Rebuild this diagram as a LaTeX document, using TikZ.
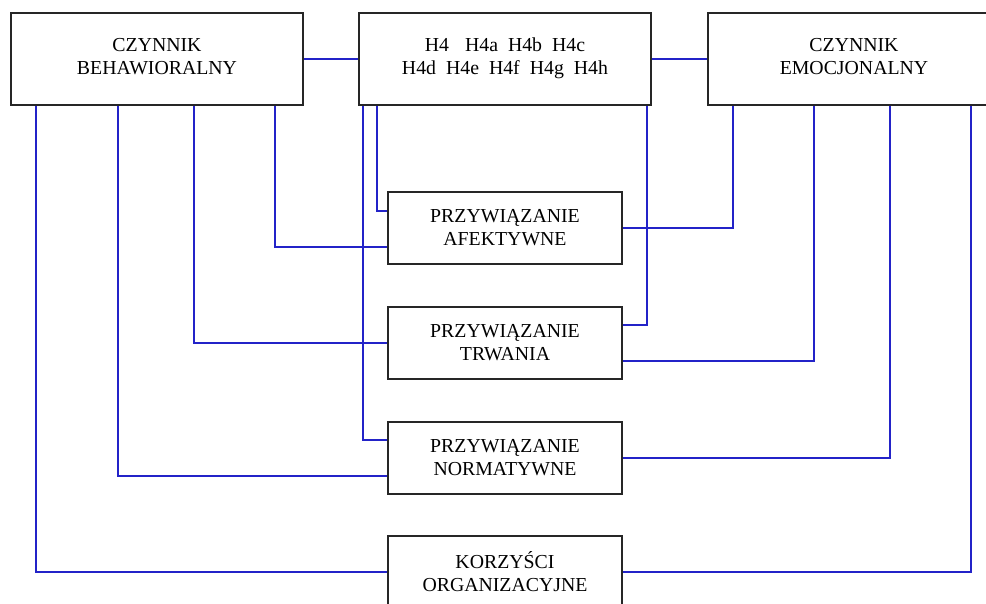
\documentclass[tikz,border=0pt]{standalone}
\usepackage{fontspec}
\setmainfont{Liberation Serif}
\usepackage{tikz}

\definecolor{linkblue}{RGB}{35,35,200}

\begin{document}
\begin{tikzpicture}[x=1pt, y=-1pt,
  box/.style={draw=black!85, line width=1.7pt, fill=white, align=center,
    font=\fontsize{19.8}{23}\selectfont, inner sep=0pt},
  wide/.style={box, minimum width=292pt, minimum height=92pt, text depth=6pt},
  small/.style={box, minimum width=234pt, minimum height=72pt},
  link/.style={draw=linkblue, line width=1.8pt}]
\useasboundingbox (0,0) rectangle (986,604);

% boxes
\node[wide] (beh) at (157,59) {CZYNNIK\\BEHAWIORALNY};
\node[wide] (hyp) at (505,59) {H4\hspace{16pt}H4a\hspace{10pt}H4b\hspace{10pt}H4c\\H4d\hspace{10pt}H4e\hspace{10pt}H4f\hspace{10pt}H4g\hspace{10pt}H4h};
\node[wide] (emo) at (854,59) {CZYNNIK\\EMOCJONALNY};
\node[small] (afe) at (505,228) {PRZYWIĄZANIE\\AFEKTYWNE};
\node[small] (trw) at (505,343) {PRZYWIĄZANIE\\TRWANIA};
\node[small] (nor) at (505,458) {PRZYWIĄZANIE\\NORMATYWNE};
\node[small] (kor) at (505,572) {KORZYŚCI\\ORGANIZACYJNE};

% top row
\draw[link] (beh) -- (hyp);
\draw[link] (hyp) -- (emo);

% behawioralny
\draw[link] ([xshift=26pt]beh.south west) |- (kor.west);
\draw[link] ([xshift=108pt]beh.south west) |- ([yshift=-18pt]nor.west);
\draw[link] ([xshift=184pt]beh.south west) |- (trw.west);
\draw[link] ([xshift=265pt]beh.south west) |- ([yshift=-19pt]afe.west);

% hipotezy
\draw[link] ([xshift=5pt]hyp.south west) |- ([yshift=18pt]nor.west);
\draw[link] ([xshift=19pt]hyp.south west) |- ([yshift=17pt]afe.west);
\draw[link] ([xshift=-5pt]hyp.south east) |- ([yshift=18pt]trw.east);

% emocjonalny
\draw[link] ([xshift=26pt]emo.south west) |- (afe.east);
\draw[link] ([xshift=107pt]emo.south west) |- ([yshift=-18pt]trw.east);
\draw[link] ([xshift=183pt]emo.south west) |- (nor.east);
\draw[link] ([xshift=264pt]emo.south west) |- (kor.east);
\end{tikzpicture}
\end{document}
